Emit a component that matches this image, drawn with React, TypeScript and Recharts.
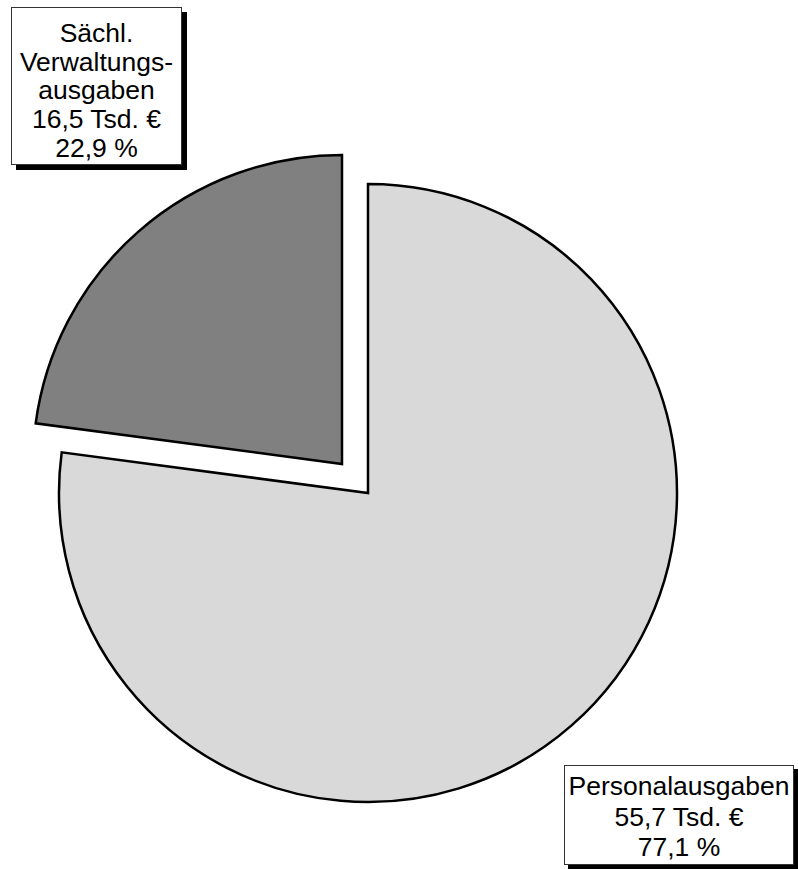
import React from 'react';
import { PieChart, Pie, Cell } from 'recharts';

const categories = ['Personalausgaben', 'Sächl. Verwaltungsausgaben'];
const amounts = [55.7, 16.5];
const shares = [77.1, 22.9];
const labelLines = [
  ['Personalausgaben', '55,7 Tsd. €', '77,1 %'],
  ['Sächl.', 'Verwaltungs-', 'ausgaben', '16,5 Tsd. €', '22,9 %'],
];
const fills = ['#d9d9d9', '#808080'];

const data = categories.map((name, i) => ({ name, amount: amounts[i], share: shares[i] }));

const boxStyle: React.CSSProperties = {
  position: 'absolute',
  background: '#fff',
  border: '1px solid #333',
  boxShadow: '5px 5px 0 #000',
  textAlign: 'center',
  fontFamily: '"Liberation Sans", Arial, sans-serif',
  fontSize: 26.5,
  color: '#000',
  boxSizing: 'border-box',
  whiteSpace: 'nowrap',
};

const App: React.FC = () => {
  return (
    <div style={{ position: 'absolute', left: 0, top: 0, width: 798, height: 869 }}>
      <PieChart width={798} height={869} margin={{ top: 0, right: 0, bottom: 0, left: 0 }}>
        {/* main pie, the small slice left out */}
        <Pie
          data={data}
          dataKey="share"
          cx={368}
          cy={493}
          outerRadius={309}
          startAngle={90}
          endAngle={-270}
          isAnimationActive={false}
          stroke="#000"
          strokeWidth={2.5}
        >
          <Cell fill={fills[0]} />
          <Cell fill="none" stroke="none" />
        </Pie>
        {/* exploded slice */}
        <Pie
          data={data}
          dataKey="share"
          cx={342}
          cy={464}
          outerRadius={309}
          startAngle={90}
          endAngle={-270}
          isAnimationActive={false}
          stroke="#000"
          strokeWidth={2.5}
        >
          <Cell fill="none" stroke="none" />
          <Cell fill={fills[1]} />
        </Pie>
      </PieChart>
      <div style={{ ...boxStyle, left: 11, top: 7, width: 171, height: 158, paddingTop: 11, lineHeight: '28.7px' }}>
        {labelLines[1].map((t) => (
          <div key={t}>{t}</div>
        ))}
      </div>
      <div style={{ ...boxStyle, left: 564, top: 765, width: 230, height: 100, paddingTop: 5, lineHeight: '30.5px', boxShadow: '4px 4px 0 #000' }}>
        {labelLines[0].map((t) => (
          <div key={t}>{t}</div>
        ))}
      </div>
    </div>
  );
};

export default App;
